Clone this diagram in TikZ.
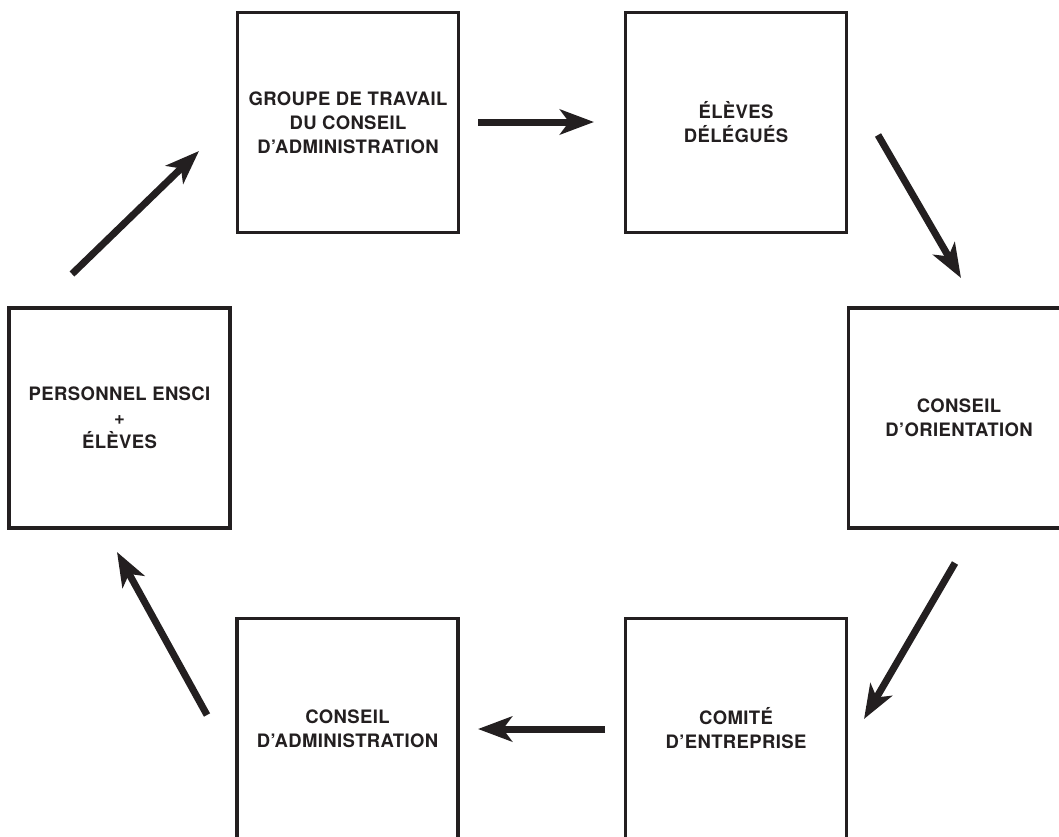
\documentclass[tikz,border=0pt]{standalone}
\usepackage{fontspec}
\setmainfont{TeX Gyre Heros}
\newfontfamily\boxfont[LetterSpace=2]{TeX Gyre Heros}
\usetikzlibrary{arrows.meta}
\definecolor{ink}{HTML}{231F20}
\begin{document}
\begin{tikzpicture}[x=1pt,y=-1pt,
  box/.style={draw=ink, line width=3.5pt, rectangle, minimum width=221pt, minimum height=220pt,
    inner sep=0pt, align=center, text=ink,
    font=\boxfont\bfseries\fontsize{18.5}{24}\selectfont},
  arr/.style={draw=ink, line width=7pt,
    -{Stealth[length=34pt, width=25pt, inset=9pt]}}]
\clip (0,0) rectangle (1059,836);
\fill[white] (0,0) rectangle (1059,836);
\node[box] (gt) at (348,122.5) {GROUPE DE TRAVAIL\\DU CONSEIL\\D’ADMINISTRATION};
\node[box] (ed) at (736,122.5) {ÉLÈVES\\DÉLÉGUÉS};
\node[box] (co) at (959,418) {CONSEIL\\D’ORIENTATION};
\node[box] (ce) at (736,728.5) {COMITÉ\\D’ENTREPRISE};
\node[box] (ca) at (347.5,728.5) {CONSEIL\\D’ADMINISTRATION};
\node[box] (pe) at (119.5,418) {PERSONNEL ENSCI\\+\\ÉLÈVES};
\coordinate (a1s) at (72,274);
\coordinate (a1e) at (199,151);
\coordinate (a2s) at (478,122);
\coordinate (a2e) at (594,122);
\coordinate (a3s) at (878,135);
\coordinate (a3e) at (961,278);
\coordinate (a4s) at (955,563);
\coordinate (a4e) at (864,719);
\coordinate (a5s) at (605,729);
\coordinate (a5e) at (478,729);
\coordinate (a6s) at (207,715);
\coordinate (a6e) at (117,552);
\draw[arr] (a1s) -- (a1e);
\draw[arr] (a2s) -- (a2e);
\draw[arr] (a3s) -- (a3e);
\draw[arr] (a4s) -- (a4e);
\draw[arr] (a5s) -- (a5e);
\draw[arr] (a6s) -- (a6e);
\end{tikzpicture}
\end{document}
